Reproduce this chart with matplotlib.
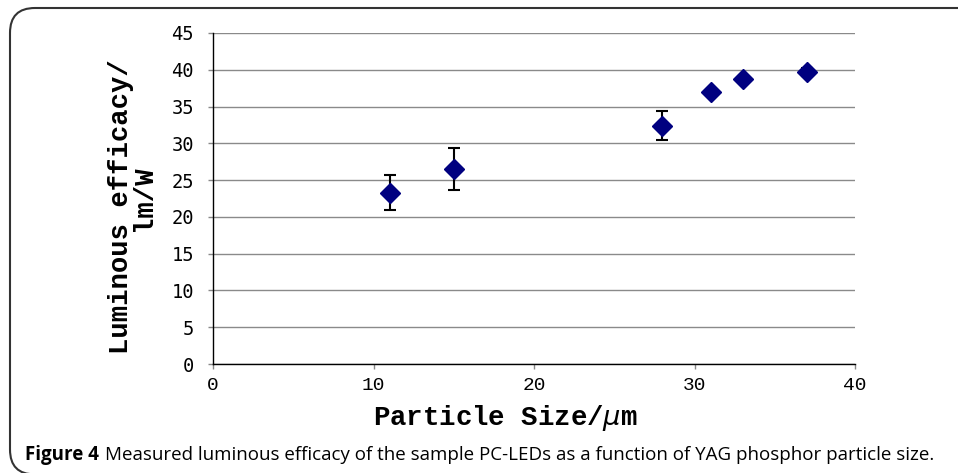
import matplotlib.pyplot as plt
from matplotlib.patches import FancyBboxPatch

# particle size (um) vs luminous efficacy (lm/W)
size_um = [11, 15, 28, 31, 33, 37]
efficacy = [23.3, 26.5, 32.4, 37.0, 38.8, 39.7]
err = [2.35, 2.9, 2.0, 0.0, 0.0, 0.5]

W, H = 958, 473
fig = plt.figure(figsize=(W / 100, H / 100), dpi=100)

# rounded frame round the figure (right and bottom run off the edge)
frame = FancyBboxPatch((10 / W, -0.003), 1.05, 1 - 8 / H + 0.003,
                       boxstyle="round,pad=0,rounding_size=0.026",
                       transform=fig.transFigure, fill=False, ec='#333333', lw=1.5,
                       mutation_aspect=W / H)
fig.patches.append(frame)

ax = fig.add_axes([213 / W, 109 / H, 642 / W, 331 / H])
ax.errorbar(size_um, efficacy, yerr=err, fmt='D', color='#000080', ms=10.5,
            ecolor='black', elinewidth=1.5, capsize=4, capthick=1.5, zorder=3)

ax.set_xlim(0, 40)
ax.set_ylim(0, 45)
ax.set_xticks(range(0, 41, 10))
ax.set_yticks(range(0, 46, 5))
ax.grid(axis='y', color='#8a8a8a', lw=1)
ax.set_axisbelow(True)
for s in ['top', 'right']:
    ax.spines[s].set_visible(False)
for s in ['left', 'bottom']:
    ax.spines[s].set_color('black')
    ax.spines[s].set_linewidth(1)
ax.tick_params(axis='both', length=3.8, width=1, color='#888888')
ax.tick_params(axis='y', labelsize=13.5, pad=10)
ax.tick_params(axis='x', labelsize=14, pad=5.5)
for lab in ax.get_yticklabels():
    lab.set_family('DejaVu Sans Mono')
for lab in ax.get_xticklabels():
    lab.set_family('Liberation Mono')

ax.set_xlabel('Particle Size/$\\mu$m', family='Liberation Mono', fontweight='bold',
              fontsize=19.7, va='top')
ax.xaxis.set_label_coords(0.456, -0.118)
ax.set_ylabel('Luminous efficacy/ \nlm/W', family='Liberation Mono', fontweight='bold',
              fontsize=19.6, linespacing=0.82)
ax.yaxis.set_label_coords(-0.088, 0.5)

# caption: bold label then plain text
t1 = fig.text(25 / W, 0.0275, 'Figure 4', fontsize=13.5, fontweight='bold',
              family='Open Sans', va='baseline')
fig.canvas.draw()
bb = t1.get_window_extent()
fig.text((bb.x1 + 6) / fig.bbox.width, 0.0275,
         'Measured luminous efficacy of the sample PC-LEDs as a function of YAG phosphor particle size.',
         fontsize=13.5, family='Open Sans', va='baseline')

fig.savefig('out.png', dpi=100)
